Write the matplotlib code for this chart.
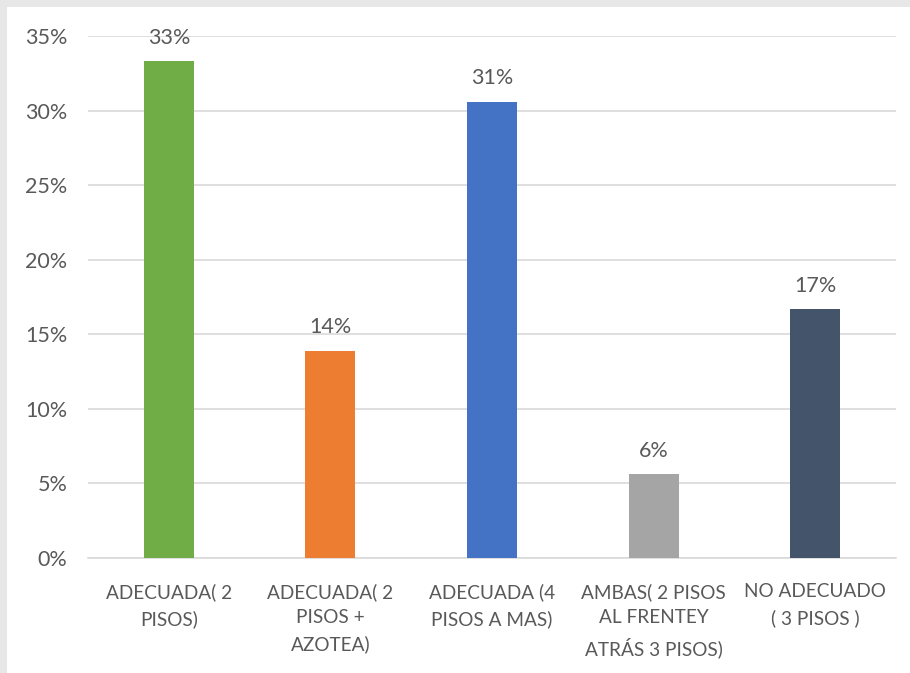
import matplotlib
matplotlib.use("Agg")
import matplotlib.pyplot as plt
from matplotlib.patches import Rectangle
from matplotlib.ticker import FuncFormatter

# Data
categories = ["ADECUADA( 2\nPISOS)", "ADECUADA( 2\nPISOS +\nAZOTEA)", "ADECUADA (4\nPISOS A MAS)",
              "AMBAS( 2 PISOS\nAL FRENTEY\nATRÁS 3 PISOS)", "NO ADECUADO\n( 3 PISOS )"]
values = [33.3, 13.9, 30.6, 5.6, 16.7]
labels = ["33%", "14%", "31%", "6%", "17%"]
colors = ["#70ad47", "#ed7d31", "#4472c4", "#a5a5a5", "#44546a"]

text_color = "#595959"
plt.rcParams['font.family'] = ['Lato', 'DejaVu Sans']

fig = plt.figure(figsize=(9.10, 6.73), dpi=100)
fig.patch.set_facecolor("#e7e7e7")
# white chart area inside grey frame
fig.add_artist(Rectangle((7 / 910, 0), 1, 1 - 7 / 673, transform=fig.transFigure,
                         facecolor="white", edgecolor="none", zorder=0))

ax = fig.add_axes([88 / 910, 1 - 558 / 673, 808 / 910, 522 / 673])
ax.set_facecolor("none")

x = range(len(categories))
ax.bar(x, values, width=0.31, color=colors, zorder=3)
for i, v in enumerate(values):
    ax.text(i, v + 0.9, labels[i], ha="center", va="bottom", fontsize=15.5, color=text_color)

ax.set_ylim(0, 35)
ax.set_xlim(-0.5, len(categories) - 0.5)
ax.set_yticks(range(0, 36, 5))
ax.yaxis.set_major_formatter(FuncFormatter(lambda v, p: f"{int(v)}%"))
ax.grid(axis="y", color="#d9d9d9", linewidth=1.2, zorder=0)
ax.set_xticks(list(x))
ax.set_xticklabels(categories, color=text_color, linespacing=1.6, fontsize=13.7)
ax.tick_params(axis="y", length=0, labelsize=15.5, labelcolor=text_color, pad=15)
ax.tick_params(axis="x", length=0, pad=18)
for s in ["top", "right", "left"]:
    ax.spines[s].set_visible(False)
ax.spines["bottom"].set_color("#d9d9d9")
ax.spines["bottom"].set_linewidth(1.2)

fig.savefig("out.png", dpi=100, facecolor=fig.get_facecolor())
